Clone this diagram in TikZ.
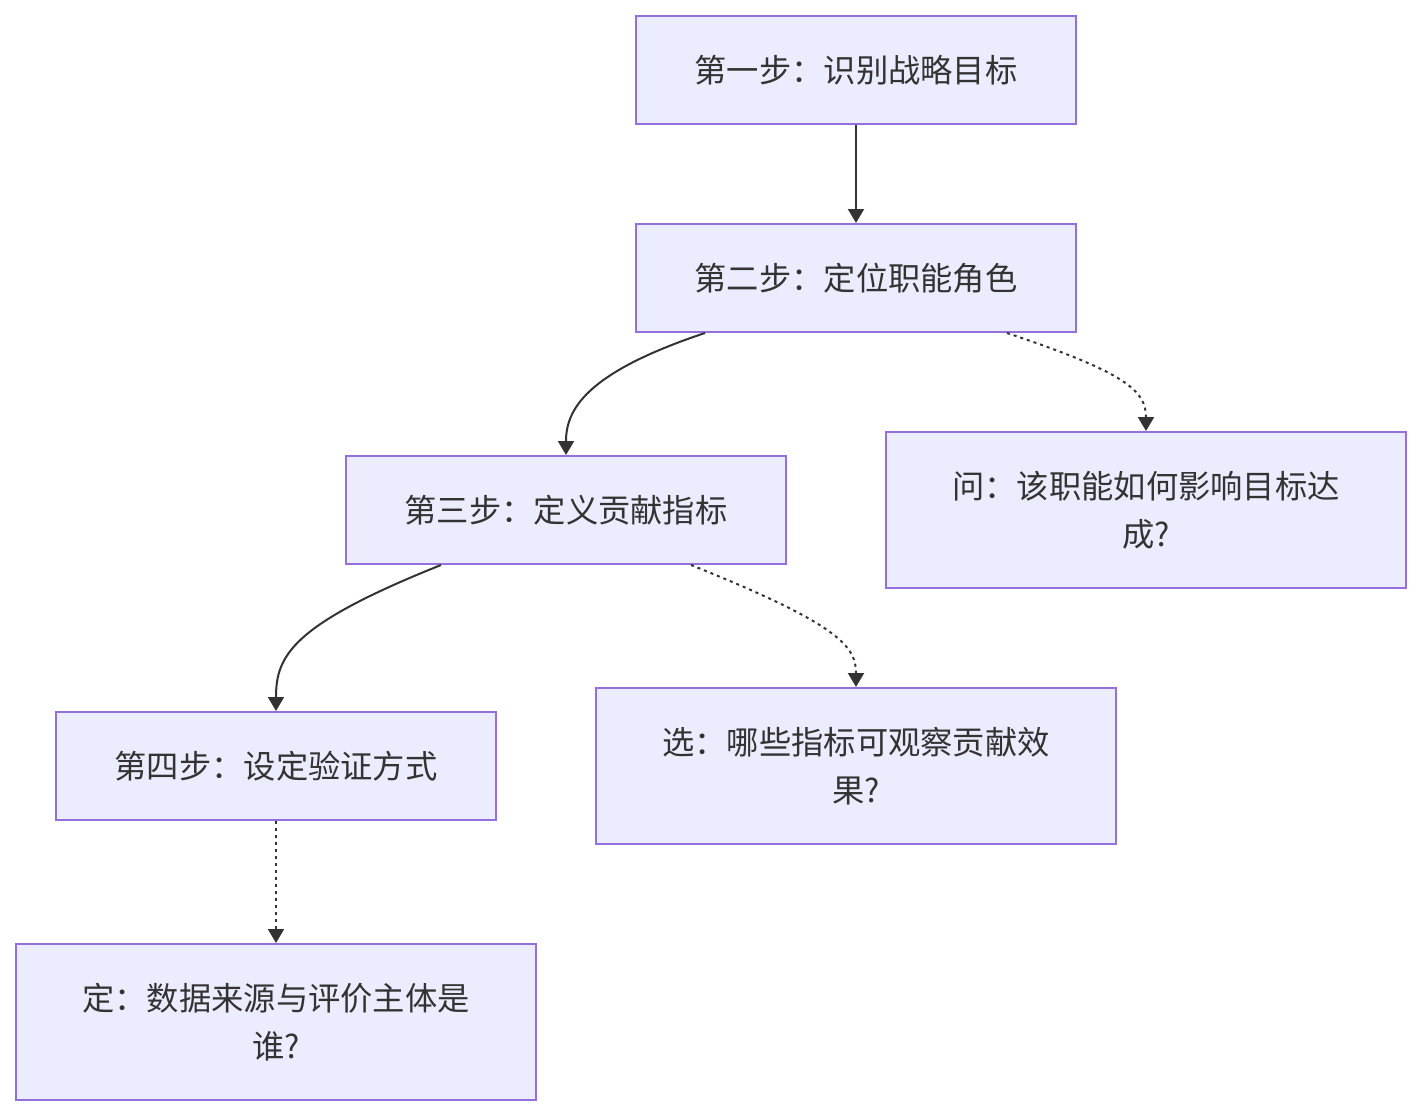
\documentclass[tikz,border=0pt]{standalone}
\usepackage{fontspec}
\setmainfont{Noto Sans CJK SC}
\usetikzlibrary{arrows.meta}
\definecolor{nodefill}{HTML}{ECECFF}
\definecolor{nodeline}{HTML}{9370DB}
\definecolor{edgecol}{HTML}{333333}
\begin{document}
\begin{tikzpicture}[x=1pt,y=-1pt,
  box/.style={draw=nodeline,fill=nodefill,line width=2pt,minimum width=440pt,minimum height=108pt,
    align=center,text=edgecol,font=\fontsize{32.3}{48}\selectfont,inner sep=0pt},
  widebox/.style={box,minimum width=520pt,minimum height=156pt},
  link/.style={draw=edgecol,line width=2pt,-{Triangle[length=14pt,width=16pt]}},
  dotlink/.style={link,dash pattern=on 3pt off 4pt}]
\useasboundingbox[fill=white] (0,0) rectangle (1422,1116);
\node[box] (s1) at (856,70) {第一步：识别战略目标};
\node[box] (s2) at (856,278) {第二步：定位职能角色};
\node[box] (s3) at (566,510) {第三步：定义贡献指标};
\node[widebox] (q) at (1146,510) {问：该职能如何影响目标达\\成?};
\node[box] (s4) at (276,766) {第四步：设定验证方式};
\node[widebox] (c) at (856,766) {选：哪些指标可观察贡献效\\果?};
\node[widebox] (d) at (276,1022) {定：数据来源与评价主体是\\谁?};
\draw[link] (s1.south) -- (s2.north);
\draw[link] ([xshift=70pt]s2.south west) .. controls +(-120pt,-40pt) and +(0pt,45pt) .. (s3.north);
\draw[dotlink] ([xshift=-70pt]s2.south east) .. controls +(120pt,-40pt) and +(0pt,40pt) .. (q.north);
\draw[link] ([xshift=96pt]s3.south west) .. controls +(-150pt,-60pt) and +(0pt,55pt) .. (s4.north);
\draw[dotlink] ([xshift=-96pt]s3.south east) .. controls +(150pt,-60pt) and +(0pt,40pt) .. (c.north);
\draw[dotlink] (s4.south) -- (d.north);
\end{tikzpicture}
\end{document}
